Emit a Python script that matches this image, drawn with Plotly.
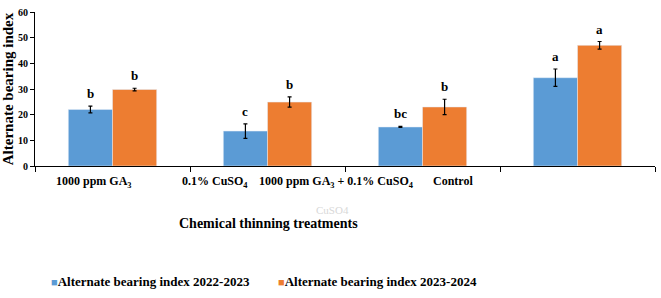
import plotly.graph_objects as go

categories = ["1000 ppm GA<sub>3</sub>", "0.1% CuSO<sub>4</sub>",
              "1000 ppm GA<sub>3</sub> + 0.1% CuSO<sub>4</sub>", "Control"]
abi_2022 = [22.0, 13.6, 15.2, 34.4]
err_2022 = [1.3, 2.8, 0.2, 3.4]
abi_2023 = [29.8, 24.9, 23.0, 47.0]
err_2023 = [0.5, 2.0, 3.0, 1.5]
letters_2022 = ["b", "c", "bc", "a"]
letters_2023 = ["b", "b", "b", "a"]
series_names = ["Alternate bearing index 2022-2023", "Alternate bearing index 2023-2024"]

BLUE = "#5B9BD5"
ORANGE = "#ED7D31"
FONT = "Liberation Serif"

xs = list(range(len(categories)))
fig = go.Figure()
fig.add_trace(go.Bar(x=xs, y=abi_2022, name=series_names[0], marker_color=BLUE,
                     showlegend=False,
                     error_y=dict(type="data", array=err_2022, color="black",
                                  thickness=1.2, width=2)))
fig.add_trace(go.Bar(x=xs, y=abi_2023, name=series_names[1], marker_color=ORANGE,
                     showlegend=False,
                     error_y=dict(type="data", array=err_2023, color="black",
                                  thickness=1.2, width=2)))

bargap = 0.43
half = (1 - bargap) / 4
ann = []
for i in xs:
    ann.append(dict(x=i - half, y=abi_2022[i] + err_2022[i], text="<b>" + letters_2022[i] + "</b>",
                    showarrow=False, yanchor="bottom", yshift=3,
                    font=dict(family=FONT, size=13, color="#000000")))
    ann.append(dict(x=i + half, y=abi_2023[i] + err_2023[i], text="<b>" + letters_2023[i] + "</b>",
                    showarrow=False, yanchor="bottom", yshift=3,
                    font=dict(family=FONT, size=13, color="#000000")))
# category labels (shifted left as in the original)
label_shift = [-19, -53, -86, -125]
for i, c in enumerate(categories):
    ann.append(dict(x=i, y=0, text="<b>" + c + "</b>", showarrow=False,
                    yanchor="top", yshift=-6, xshift=label_shift[i],
                    font=dict(family=FONT, size=12, color="#000000")))
ann.append(dict(x=2, y=0, text="CuSO4", showarrow=False, yanchor="top",
                yshift=-36, xshift=-90,
                font=dict(family=FONT, size=11, color="#d8d8d8")))
ann.append(dict(xref="paper", yref="paper", x=0.377, y=-0.31, text="<b>Chemical thinning treatments</b>",
                showarrow=False, yanchor="top",
                font=dict(family=FONT, size=14, color="#000000")))
# legend drawn as text entries
legend_x = [0.022, 0.388]
legend_colors = [BLUE, ORANGE]
for nm, col, lx in zip(series_names, legend_colors, legend_x):
    ann.append(dict(xref="paper", yref="paper", x=lx, y=-0.75, xanchor="left", yanchor="middle",
                    text="<span style='color:%s;font-size:11px'>■</span><b>%s</b>" % (col, nm),
                    showarrow=False, font=dict(family=FONT, size=13, color="#000000")))

fig.update_layout(
    width=661, height=298,
    margin=dict(l=33, r=6, t=7, b=132),
    paper_bgcolor="white", plot_bgcolor="white",
    barmode="group", bargap=bargap, bargroupgap=0,
    font=dict(family=FONT, color="#000000"),
    annotations=ann,
    showlegend=False,
    xaxis=dict(range=[-0.5, 3.5], tickvals=[-0.5, 0.5, 1.5, 2.5, 3.5],
               showticklabels=False, ticks="outside", ticklen=5, tickcolor="black",
               showline=True, linecolor="black", linewidth=1.2, showgrid=False,
               zeroline=False),
    yaxis=dict(range=[0, 60], dtick=10, ticks="outside", ticklen=4, tickcolor="black",
               showline=True, linecolor="black", linewidth=1, showgrid=False,
               zeroline=False, tickfont=dict(family=FONT, size=10, color="#000000"),
               tickprefix="<b>", ticksuffix="</b>",
               title=dict(text="<b>Alternate bearing index</b>", standoff=1,
                          font=dict(family=FONT, size=15, color="#000000"))),
)
fig.write_html("out.html")
